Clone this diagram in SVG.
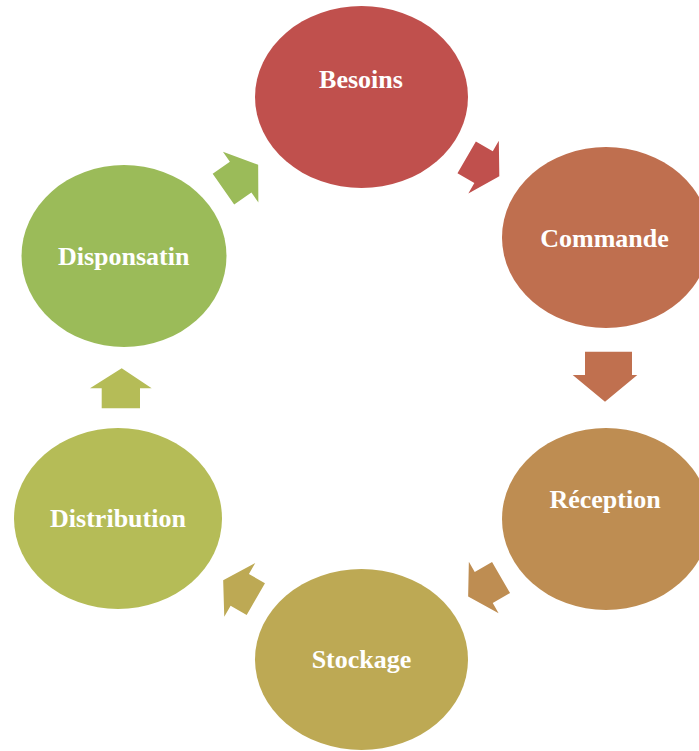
<svg xmlns="http://www.w3.org/2000/svg" width="699" height="751" viewBox="0 0 699 751">
<style>
.lbl{font-family:"Liberation Serif","Times New Roman",serif;font-weight:bold;font-size:26px;fill:#FFFFFF;text-anchor:middle}
</style>
<rect width="699" height="751" fill="#FFFFFF"/>
<g id="connectors">
<polygon fill="#C0504D" transform="translate(483,166.8) rotate(30)" points="-18.85,-18.4 0.65,-18.4 0.65,-30.5 18.85,0 0.65,30.5 0.65,18.4 -18.85,18.4"/>
<polygon fill="#C0704F" points="585,351.7 632,351.7 632,375 637.3,375 605,401.7 572.7,375 585,375"/>
<polygon fill="#BE8D52" transform="translate(484.6,587) rotate(150)" points="-19,-18 1,-18 1,-29.75 19,0 1,29.75 1,18 -19,18"/>
<polygon fill="#BDA954" transform="translate(239.5,589.7) rotate(210)" points="-18.85,-18.3 -0.3,-18.3 -0.3,-31 18.85,0 -0.3,31 -0.3,18.3 -18.85,18.3"/>
<polygon fill="#B5BC57" points="101.7,408.3 101.7,388.3 90,388.3 121.7,368.3 151.7,388.3 140,388.3 140,408.3"/>
<polygon fill="#9BBB59" transform="translate(240.8,177) rotate(-35)" points="-21.2,-18.75 -0.2,-18.75 -0.2,-30.9 21.2,0 -0.2,30.9 -0.2,18.75 -21.2,18.75"/>
</g>
<g id="besoins">
<ellipse cx="361.5" cy="97" rx="106.5" ry="91" fill="#C0504D"/>
<text class="lbl" x="361" y="88">Besoins</text>
</g>
<g id="commande">
<ellipse cx="606" cy="237.5" rx="104" ry="90.5" fill="#BF6F4F"/>
<text class="lbl" x="604.5" y="246.7">Commande</text>
</g>
<g id="reception">
<ellipse cx="606" cy="519" rx="104" ry="91" fill="#BE8D52"/>
<text class="lbl" x="605" y="507.7">Réception</text>
</g>
<g id="stockage">
<ellipse cx="361.5" cy="659.5" rx="106.5" ry="90.5" fill="#BDA954"/>
<text class="lbl" x="361.5" y="668">Stockage</text>
</g>
<g id="distribution">
<ellipse cx="118" cy="518.5" rx="104" ry="90.5" fill="#B5BC57"/>
<text class="lbl" x="118" y="527">Distribution</text>
</g>
<g id="disponsatin">
<ellipse cx="124" cy="256" rx="102.5" ry="91" fill="#9BBB59"/>
<text class="lbl" x="123.7" y="265">Disponsatin</text>
</g>
</svg>
